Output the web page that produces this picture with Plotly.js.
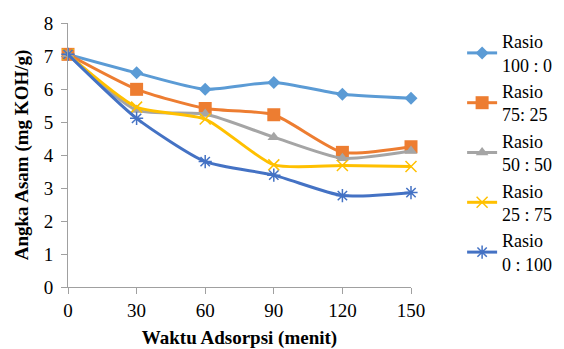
<!DOCTYPE html>
<html><head><meta charset="utf-8">
<script src="https://cdn.plot.ly/plotly-3.0.1.min.js"></script>
<style>body{margin:0;background:#fff}#c{width:564px;height:349px}</style>
</head><body><div id="c"></div>
<script>
var waktu = [0, 30, 60, 90, 120, 150];
var rasio100_0 = [7.05, 6.49, 5.99, 6.2, 5.84, 5.72];
var rasio75_25 = [7.05, 5.99, 5.41, 5.22, 4.08, 4.25];
var rasio50_50 = [7.05, 5.36, 5.24, 4.54, 3.9, 4.12];
var rasio25_75 = [7.05, 5.45, 5.09, 3.7, 3.68, 3.65];
var rasio0_100 = [7.05, 5.11, 3.8, 3.39, 2.77, 2.86];
var names = ['Rasio<br>100 : 0', 'Rasio<br>75: 25', 'Rasio<br>50 : 50', 'Rasio<br>25 : 75', 'Rasio<br>0 : 100'];
var xTicks = [0, 30, 60, 90, 120, 150];
var yTicks = [0, 1, 2, 3, 4, 5, 6, 7, 8];

var series = [rasio100_0, rasio75_25, rasio50_50, rasio25_75, rasio0_100];
var colors = ['#5B9BD5', '#ED7D31', '#A5A5A5', '#FFC000', '#4472C4'];
var symbols = ['diamond', 'square', 'triangle-up', 'x-thin-open', 'asterisk-open'];
var sizes = [10, 13, 11, 11, 11];
var mlw = [0, 0, 0, 1.5, 1.5];

var traces = series.map(function (s, i) {
  return {
    x: waktu, y: s, name: names[i], type: 'scatter', mode: 'lines+markers',
    line: {color: colors[i], width: 3, shape: 'spline', smoothing: 0.6},
    marker: {symbol: symbols[i], size: sizes[i], color: colors[i],
             line: {color: colors[i], width: mlw[i]}},
    cliponaxis: false
  };
});

function fnt(sz) { return {family: 'Liberation Serif', size: sz || 19, color: '#000000'}; }
var layout = {
  width: 564, height: 349,
  margin: {l: 68, r: 153, t: 23, b: 62, autoexpand: false},
  paper_bgcolor: '#fff', plot_bgcolor: '#fff',
  font: fnt(),
  showlegend: true,
  legend: {x: 1.149, xanchor: 'left', y: 1.0, yanchor: 'top', tracegroupgap: 3,
           font: fnt(18), bgcolor: 'rgba(0,0,0,0)', itemwidth: 30},
  xaxis: {
    range: [0, 150], tickvals: xTicks, ticktext: xTicks.map(String),
    showgrid: false, zeroline: false, showline: true, linecolor: '#a0a0a0', linewidth: 1,
    ticks: 'outside', ticklen: 6, tickcolor: '#a0a0a0',
    tickfont: fnt(),
    title: {text: '<b>Waktu Adsorpsi (menit)</b>', font: fnt(), standoff: 18}
  },
  yaxis: {
    range: [0, 8], tickvals: yTicks,
    showgrid: false, zeroline: false, showline: true, linecolor: '#a0a0a0', linewidth: 1,
    ticks: 'outside', ticklen: 6, tickcolor: '#a0a0a0', ticklabelstandoff: 4,
    tickfont: fnt(),
    title: {text: '<b>Angka Asam (mg KOH/g)</b>', font: fnt(), standoff: 10}
  }
};
Plotly.newPlot('c', traces, layout, {displayModeBar: false, staticPlot: true});
</script></body></html>
